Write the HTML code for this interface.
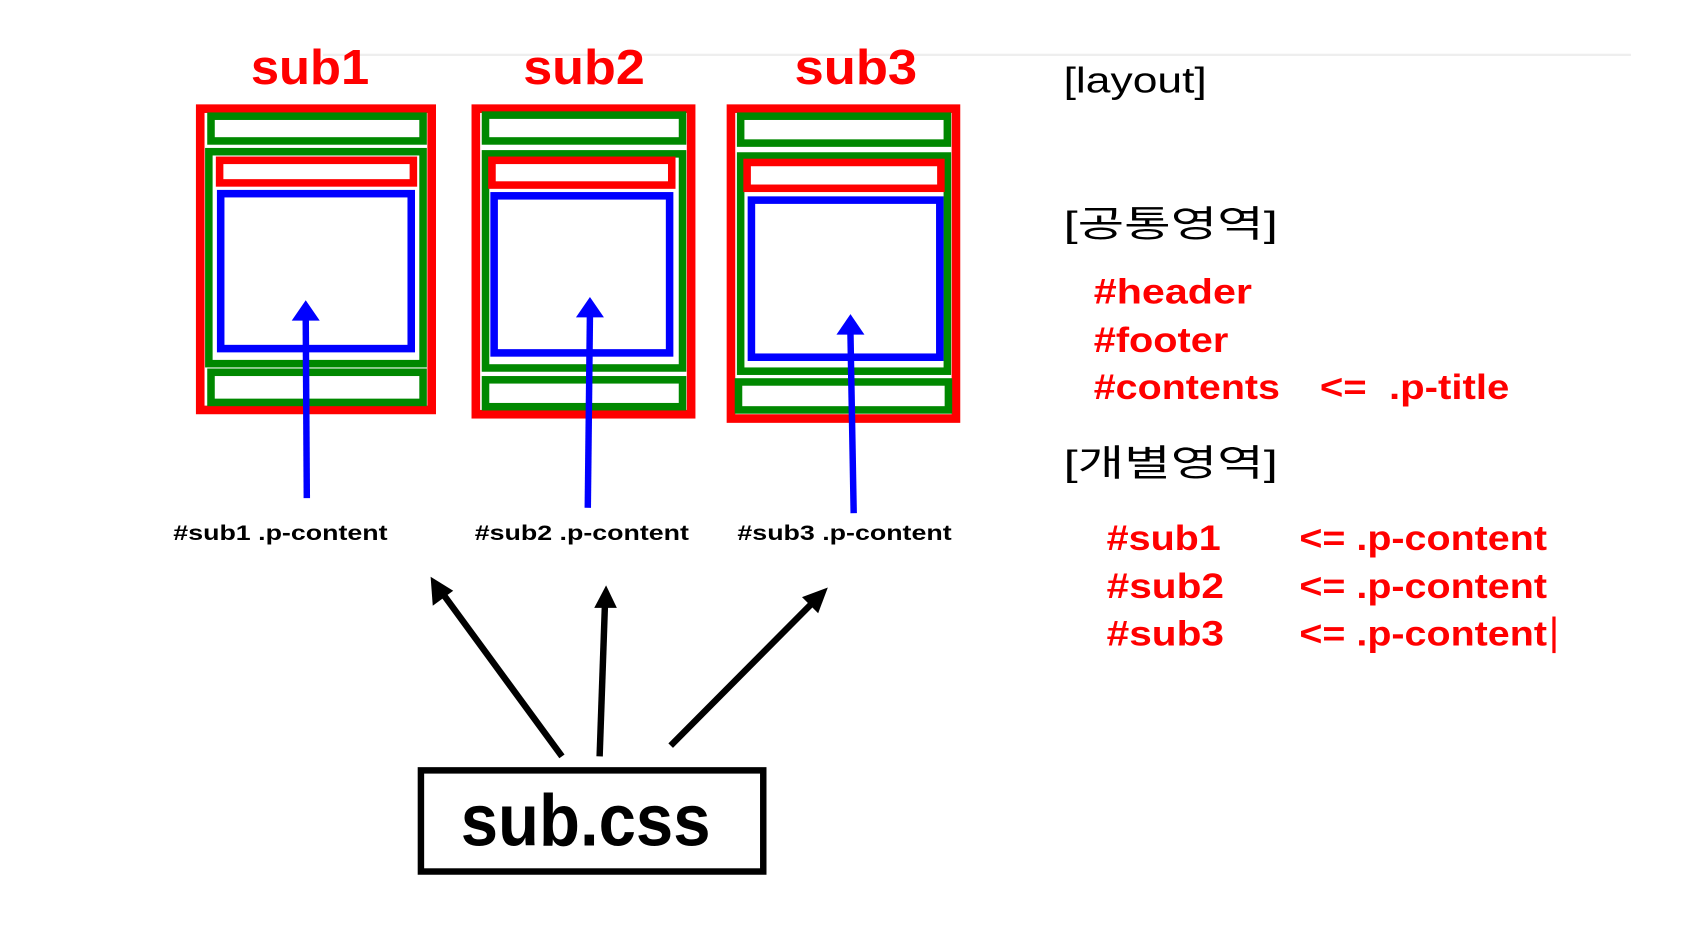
<!DOCTYPE html>
<html><head><meta charset="utf-8"><style>html,body{margin:0;padding:0;background:#fff;width:1688px;height:935px;overflow:hidden}</style></head>
<body>
<svg width="1688" height="935" viewBox="0 0 1568 869" preserveAspectRatio="none" xmlns="http://www.w3.org/2000/svg" font-family="'Liberation Sans','Noto Sans CJK KR',sans-serif">
<line x1="300" y1="51" x2="1515" y2="51" stroke="#eee" stroke-width="2"/>
<g font-weight="bold" font-size="46" fill="#f00" lengthAdjust="spacingAndGlyphs">
<text x="233" y="78" textLength="110" lengthAdjust="spacingAndGlyphs">sub1</text><text x="486" y="78" textLength="113" lengthAdjust="spacingAndGlyphs">sub2</text><text x="738" y="78" textLength="114" lengthAdjust="spacingAndGlyphs">sub3</text></g>
<g fill="none">
<rect x="186" y="101" width="215" height="280" stroke="#f00" stroke-width="8"/>
<rect x="196" y="108" width="197" height="23" stroke="#080" stroke-width="7"/>
<rect x="194" y="141" width="199" height="197" stroke="#080" stroke-width="7"/>
<rect x="204" y="149" width="180" height="21" stroke="#f00" stroke-width="7"/>
<rect x="205" y="180" width="177" height="144" stroke="#00f" stroke-width="7"/>
<rect x="196" y="346" width="197" height="28" stroke="#080" stroke-width="7"/>
<rect x="442" y="101" width="200" height="284" stroke="#f00" stroke-width="8"/>
<rect x="451" y="107" width="183" height="24" stroke="#080" stroke-width="7"/>
<rect x="451" y="143" width="183" height="199" stroke="#080" stroke-width="7"/>
<rect x="457" y="149" width="167" height="23" stroke="#f00" stroke-width="7"/>
<rect x="459" y="182" width="163" height="146" stroke="#00f" stroke-width="7"/>
<rect x="451" y="353" width="183" height="25" stroke="#080" stroke-width="7"/>
<rect x="679" y="101" width="209" height="288" stroke="#f00" stroke-width="8"/>
<rect x="688" y="108" width="192" height="25" stroke="#080" stroke-width="7"/>
<rect x="688" y="145" width="192" height="200" stroke="#080" stroke-width="7"/>
<rect x="694" y="151" width="180" height="24" stroke="#f00" stroke-width="7"/>
<rect x="698" y="186" width="175" height="146" stroke="#00f" stroke-width="7"/>
<rect x="686" y="355" width="195" height="26" stroke="#080" stroke-width="7"/>
</g>
<g stroke="#00f" stroke-width="6">
<line x1="285" y1="463" x2="284" y2="295"/><line x1="546" y1="472" x2="548" y2="292"/><line x1="793" y1="477" x2="790" y2="310"/></g>
<g fill="#00f"><polygon points="284,279 271,298 297,298"/><polygon points="548,276 535,295 561,295"/><polygon points="790,292 777,311 803,311"/></g>
<g font-size="20" font-weight="bold" fill="#000">
<text x="161" y="502" textLength="199" lengthAdjust="spacingAndGlyphs">#sub1 .p-content</text><text x="441" y="502" textLength="199" lengthAdjust="spacingAndGlyphs">#sub2 .p-content</text><text x="685" y="502" textLength="199" lengthAdjust="spacingAndGlyphs">#sub3 .p-content</text></g>
<g stroke="#000" stroke-width="6">
<line x1="522" y1="703" x2="410" y2="550"/><line x1="557" y1="703" x2="562" y2="560"/><line x1="623" y1="693" x2="757" y2="558"/></g>
<g fill="#000"><polygon points="400,536 402,563 421,549"/><polygon points="563,544 552,565 573,565"/><polygon points="769,546 745,555 760,570"/></g>
<rect x="391" y="716" width="318" height="94" fill="none" stroke="#000" stroke-width="6"/>
<text x="428" y="786" font-size="68" font-weight="bold" fill="#000" textLength="232" lengthAdjust="spacingAndGlyphs">sub.css</text>
<g font-size="34" fill="#000">
<text x="988" y="86" textLength="133" lengthAdjust="spacingAndGlyphs">[layout]</text><text x="988" y="220" textLength="199" lengthAdjust="spacingAndGlyphs">[공통영역]</text><text x="988" y="442" textLength="199" lengthAdjust="spacingAndGlyphs">[개별영역]</text></g>
<g font-size="33" font-weight="bold" fill="#f00">
<text x="1016" y="282" textLength="147" lengthAdjust="spacingAndGlyphs">#header</text><text x="1016" y="327" textLength="125" lengthAdjust="spacingAndGlyphs">#footer</text><text x="1016" y="371" textLength="173" lengthAdjust="spacingAndGlyphs">#contents</text><text x="1226" y="371" textLength="176" lengthAdjust="spacingAndGlyphs" xml:space="preserve">&lt;=  .p-title</text>
<text x="1028" y="511" textLength="106" lengthAdjust="spacingAndGlyphs">#sub1</text><text x="1207" y="511" textLength="230" lengthAdjust="spacingAndGlyphs">&lt;= .p-content</text>
<text x="1028" y="556" textLength="109" lengthAdjust="spacingAndGlyphs">#sub2</text><text x="1207" y="556" textLength="230" lengthAdjust="spacingAndGlyphs">&lt;= .p-content</text>
<text x="1028" y="600" textLength="109" lengthAdjust="spacingAndGlyphs">#sub3</text><text x="1207" y="600" textLength="230" lengthAdjust="spacingAndGlyphs">&lt;= .p-content</text></g>
<rect x="1442" y="573" width="3" height="34" fill="#f00"/>
</svg>
</body></html>
